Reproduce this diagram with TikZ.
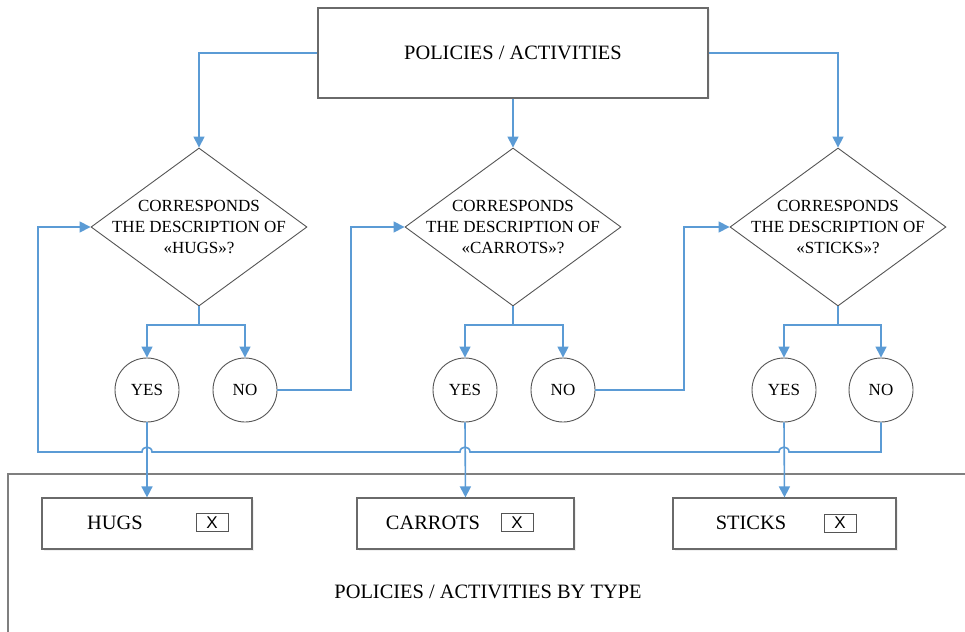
\documentclass[tikz,border=0pt]{standalone}
\usepackage{fontspec}
\setmainfont{Liberation Serif}
\newfontfamily\markfont{Liberation Sans}
\usetikzlibrary{shapes.geometric,arrows.meta,shadows}
\definecolor{flow}{HTML}{5B9BD5}
\definecolor{edge}{HTML}{555555}
\definecolor{boxedge}{HTML}{6A6A6A}
\definecolor{framecol}{HTML}{7F7F7F}
\begin{document}
\begin{tikzpicture}[x=1pt,y=-1pt,
  conn/.style={draw=flow,line width=1.6pt},
  arr/.style={conn,-{Triangle[length=11pt,width=11pt]}},
  softshadow/.style={drop shadow={shadow xshift=1.5pt,shadow yshift=-1.5pt,opacity=0.12}},
  box/.style={rectangle,draw=boxedge,line width=1.2pt,fill=white,inner sep=0pt,softshadow},
  decision/.style={diamond,draw=edge,line width=0.9pt,fill=white,inner sep=0pt,
    minimum width=216pt,minimum height=158pt},
  answer/.style={circle,draw=edge,line width=0.9pt,fill=white,inner sep=0pt,
    minimum size=64pt,font=\fontsize{17}{20}\selectfont},
  big/.style={font=\fontsize{20.4}{24}\selectfont,inner sep=0pt},
  qtext/.style={align=center,inner sep=0pt,font=\fontsize{17}{21}\selectfont},
  checkbox/.style={rectangle,draw=edge,line width=1pt,fill=white,inner sep=0pt,
    minimum width=32pt,minimum height=18pt,font=\markfont\fontsize{17}{18}\selectfont},
]
\useasboundingbox (0,0) rectangle (965,631);

% frame of the lower panel
\draw[framecol,line width=1.6pt] (8,640) -- (8,474) -- (970,474);

% source box
\node[box,minimum width=390pt,minimum height=90pt] (top) at (513,53) {};
\node[big] (toptext) at (top.center) {POLICIES / ACTIVITIES};

% decisions
\node[decision] (d1) at (199,227) {};
\node[decision] (d2) at (513,227) {};
\node[decision] (d3) at (838,227) {};
\node[qtext] (q1) at (d1.center) {CORRESPONDS\\THE DESCRIPTION OF\\«HUGS»?};
\node[qtext] (q2) at (d2.center) {CORRESPONDS\\THE DESCRIPTION OF\\«CARROTS»?};
\node[qtext] (q3) at (d3.center) {CORRESPONDS\\THE DESCRIPTION OF\\«STICKS»?};

% answers
\node[answer] (y1) at (147,390) {YES};
\node[answer] (n1) at (245,390) {NO};
\node[answer] (y2) at (465,390) {YES};
\node[answer] (n2) at (563,390) {NO};
\node[answer] (y3) at (784,390) {YES};
\node[answer] (n3) at (881,390) {NO};

% result boxes
\node[box,minimum width=210pt,minimum height=51pt] (b1) at (147,523.5) {};
\node[box,minimum width=217pt,minimum height=51pt] (b2) at (465.5,523.5) {};
\node[box,minimum width=223pt,minimum height=51pt] (b3) at (784.5,523.5) {};
\node[big] (t1) at (115,523) {HUGS};
\node[big] (t2) at (433,523) {CARROTS};
\node[big] (t3) at (751,523) {STICKS};
\node[checkbox] (x1) at (212,522.5) {X};
\node[checkbox] (x2) at (517,522.5) {X};
\node[checkbox] (x3) at (840,523) {X};

\node[big] (panel) at (488,592) {POLICIES / ACTIVITIES BY TYPE};

% branch points and bends
\coordinate (s1) at (199,325);
\coordinate (s2) at (513,325);
\coordinate (s3) at (838,325);
\coordinate (k1) at (351,227);
\coordinate (k2) at (684,227);
\coordinate (r0) at (881,452);
\coordinate (r1) at (38,452);
\coordinate (r2) at (38,227);

% top box to decisions
\draw[arr] (top.west) -| (d1.north);
\draw[arr] (top.south) -- (d2.north);
\draw[arr] (top.east) -| (d3.north);

% decisions to answers
\draw[conn] (d1.south) -- (s1);
\draw[arr] (s1) -| (y1.north);
\draw[arr] (s1) -| (n1.north);
\draw[conn] (d2.south) -- (s2);
\draw[arr] (s2) -| (y2.north);
\draw[arr] (s2) -| (n2.north);
\draw[conn] (d3.south) -- (s3);
\draw[arr] (s3) -| (y3.north);
\draw[arr] (s3) -| (n3.north);

% "no" leads to the next decision
\draw[arr] (n1.east) -| (k1) -- (d2.west);
\draw[arr] (n2.east) -| (k2) -- (d3.west);

% "yes" leads to the result box
\draw[arr] (y1.south) -- (b1.north);
\draw[arr] (y2.south) -- (b2.north);
\draw[arr] (y3.south) -- (b3.north);

% last "no" returns to the first decision, hopping over the "yes" lines
\draw[arr] (n3.south) -- (r0)
  -- (789,452) .. controls (789,445.5) and (779,445.5) .. (779,452)
  -- (470,452) .. controls (470,445.5) and (460,445.5) .. (460,452)
  -- (152,452) .. controls (152,445.5) and (142,445.5) .. (142,452)
  -- (r1) -- (r2) -- (d1.west);
\end{tikzpicture}
\end{document}
